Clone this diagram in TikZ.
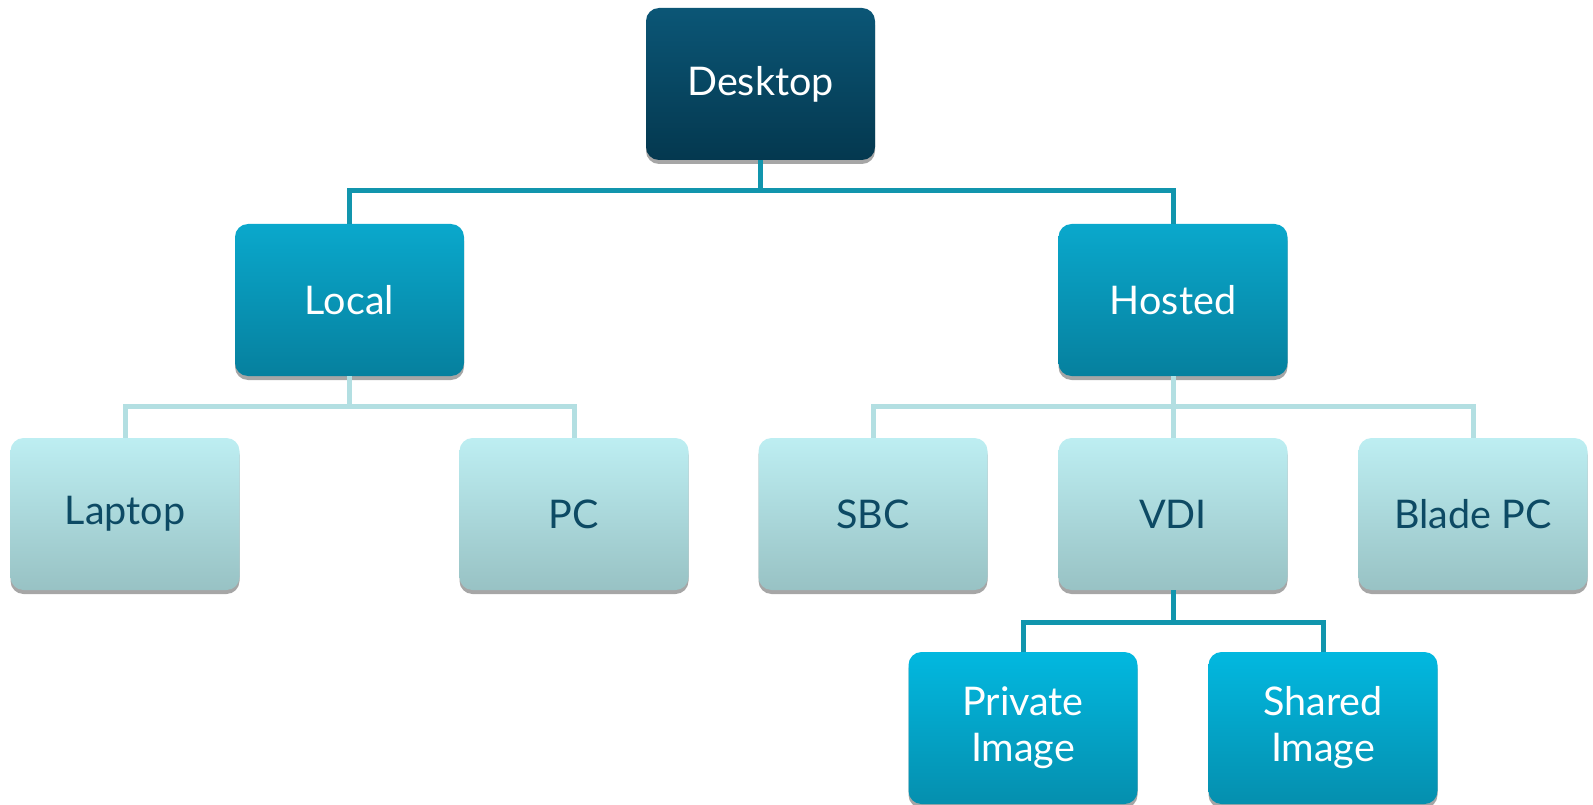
\documentclass[tikz,border=0pt]{standalone}
\usepackage{fontspec}
\setmainfont{Lato}
\usetikzlibrary{shadows}

\definecolor{deskTop}{HTML}{0B5676}
\definecolor{deskBot}{HTML}{04384F}
\definecolor{midTop}{HTML}{0AA8CC}
\definecolor{midBot}{HTML}{06809E}
\definecolor{leafTop}{HTML}{BDEEF2}
\definecolor{leafBot}{HTML}{98C2C4}
\definecolor{imgTop}{HTML}{02B8E0}
\definecolor{imgBot}{HTML}{058FAE}
\definecolor{leafText}{HTML}{0D4A64}
\definecolor{linkDark}{HTML}{1195AD}
\definecolor{linkLight}{HTML}{B3DFE2}

\tikzset{
  box/.style={rounded corners=13pt, minimum width=229pt, minimum height=152pt,
    align=center, font=\fontsize{39.5}{46}\selectfont, inner sep=0pt,
    drop shadow={shadow xshift=0pt, shadow yshift=-4pt, opacity=.35, fill=black}},
  rootbox/.style={box, top color=deskTop, bottom color=deskBot, text=white},
  groupbox/.style={box, top color=midTop, bottom color=midBot, text=white},
  leafbox/.style={box, top color=leafTop, bottom color=leafBot, text=leafText},
  imagebox/.style={box, top color=imgTop, bottom color=imgBot, text=white},
  link/.style={line width=5pt, linkDark},
  lightlink/.style={line width=5pt, linkLight},
}

\begin{document}
\begin{tikzpicture}[x=1pt, y=-1pt]
  \useasboundingbox (0,0) rectangle (1593,805);

  % levels of the tree
  \node[rootbox]  (desk)    at (760.5,84) {Desktop};
  \node[groupbox] (local)   at (349.5,300) {Local};
  \node[groupbox] (hosted)  at (1173,300) {Hosted};
  \node[leafbox]  (laptop)  at (125,514) {Laptop};
  \node[leafbox]  (pc)      at (574,514) {PC};
  \node[leafbox]  (sbc)     at (873,514) {SBC};
  \node[leafbox]  (vdi)     at (1173,514) {VDI};
  \node[leafbox]  (blade)   at (1473,514) {Blade PC};
  \node[imagebox] (private) at (1023,728) {Private\\Image};
  \node[imagebox] (shared)  at (1323,728) {Shared\\Image};

  % junctions
  \coordinate (deskj)   at (760.5,191);
  \coordinate (localj)  at (349.5,406);
  \coordinate (hostedj) at (1173,406);
  \coordinate (vdij)    at (1173,622);

  \draw[link] (desk.south) -- (deskj) -| (local.north);
  \draw[link] (deskj) -| (hosted.north);

  \draw[lightlink] (local.south) -- (localj) -| (laptop.north);
  \draw[lightlink] (localj) -| (pc.north);

  \draw[lightlink] (hosted.south) -- (vdi.north);
  \draw[lightlink] (hostedj) -| (sbc.north);
  \draw[lightlink] (hostedj) -| (blade.north);

  \draw[link] (vdi.south) -- (vdij) -| (private.north);
  \draw[link] (vdij) -| (shared.north);
\end{tikzpicture}
\end{document}
